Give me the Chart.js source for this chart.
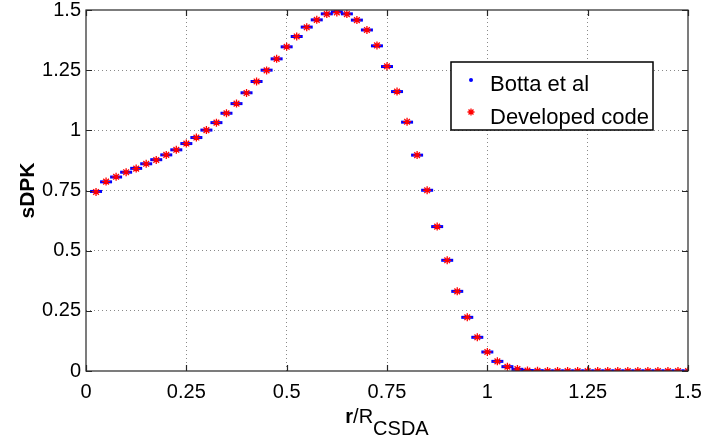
<!DOCTYPE html>
<html>
<head>
<meta charset="utf-8">
<script src="https://cdn.jsdelivr.net/npm/chart.js@4.4.1/dist/chart.umd.min.js"></script>
<style>
  html, body { margin: 0; padding: 0; background: #fff; }
</style>
</head>
<body>
<canvas id="graphique" width="705" height="436"></canvas>
<script>
"use strict";

// r / R_CSDA
const rayons = [0.025, 0.05, 0.075, 0.1, 0.125, 0.15, 0.175, 0.2, 0.225, 0.25,
  0.275, 0.3, 0.325, 0.35, 0.375, 0.4, 0.425, 0.45, 0.475, 0.5,
  0.525, 0.55, 0.575, 0.6, 0.625, 0.65, 0.675, 0.7, 0.725, 0.75,
  0.775, 0.8, 0.825, 0.85, 0.875, 0.9, 0.925, 0.95, 0.975, 1,
  1.025, 1.05, 1.075, 1.1, 1.125, 1.15, 1.175, 1.2, 1.225, 1.25,
  1.275, 1.3, 1.325, 1.35, 1.375, 1.4, 1.425, 1.45, 1.475, 1.5];

const valeursBotta = [0.746, 0.786, 0.806, 0.826, 0.842, 0.861, 0.878, 0.898, 0.919, 0.945,
  0.970, 1.001, 1.032, 1.071, 1.111, 1.156, 1.203, 1.250, 1.297, 1.347,
  1.390, 1.429, 1.459, 1.484, 1.492, 1.484, 1.458, 1.417, 1.351, 1.265,
  1.161, 1.034, 0.897, 0.751, 0.600, 0.460, 0.331, 0.223, 0.140, 0.079,
  0.040, 0.018, 0.007, 0.002, 0.001, 0, 0, 0, 0, 0,
  0, 0, 0, 0, 0, 0, 0, 0, 0, 0];

const valeursCode = [0.744, 0.787, 0.807, 0.826, 0.841, 0.861, 0.877, 0.898, 0.919, 0.945,
  0.970, 1.001, 1.032, 1.071, 1.111, 1.155, 1.203, 1.249, 1.297, 1.347,
  1.390, 1.428, 1.459, 1.483, 1.490, 1.483, 1.458, 1.417, 1.353, 1.266,
  1.161, 1.036, 0.897, 0.751, 0.600, 0.460, 0.331, 0.223, 0.140, 0.079,
  0.040, 0.018, 0.008, 0.002, 0.001, 0, 0, 0, 0, 0,
  0, 0, 0, 0, 0, 0, 0, 0, 0, 0];

const ticksX = [0, 0.25, 0.5, 0.75, 1, 1.25, 1.5];
const etiquettesX = ["0", "0.25", "0.5", "0.75", "1", "1.25", "1.5"];
const ticksY = [0, 0.25, 0.5, 0.75, 1, 1.25, 1.5];
const etiquettesY = ["0", "0.25", "0.5", "0.75", "1", "1.25", "1.5"];

const nomsSeries = ["Botta et al", "Developed code"];
const police = "'Liberation Sans', Arial, sans-serif";

function points(valeurs) {
  return rayons.map((r, i) => ({ x: r, y: valeurs[i] }));
}

// cadre, petites graduations vers l'interieur, legende et titres
const cadreMatlab = {
  id: 'cadreMatlab',
  afterDraw(chart) {
    const ctx = chart.ctx;
    const a = chart.chartArea;
    const sx = chart.scales.x;
    const sy = chart.scales.y;
    ctx.save();

    ctx.strokeStyle = '#262626';
    ctx.lineWidth = 1.2;
    ctx.strokeRect(a.left, a.top, a.right - a.left, a.bottom - a.top);
    ctx.beginPath();
    ticksX.forEach(v => {
      let x = Math.round(sx.getPixelForValue(v)) + 0.5;
      ctx.moveTo(x, a.bottom); ctx.lineTo(x, a.bottom - 6);
      ctx.moveTo(x, a.top); ctx.lineTo(x, a.top + 6);
    });
    ticksY.forEach(v => {
      let y = Math.round(sy.getPixelForValue(v)) + 0.5;
      ctx.moveTo(a.left, y); ctx.lineTo(a.left + 6, y);
      ctx.moveTo(a.right, y); ctx.lineTo(a.right - 6, y);
    });
    ctx.stroke();

    // legende
    ctx.fillStyle = '#fff';
    ctx.fillRect(451, 62, 202, 68);
    ctx.strokeStyle = '#000';
    ctx.lineWidth = 1.5;
    ctx.strokeRect(451, 62, 202, 68);

    const ds = chart.data.datasets;
    ctx.fillStyle = ds[0].borderColor;
    ctx.beginPath();
    ctx.arc(471, 80, 2, 0, Math.PI * 2);
    ctx.fill();
    ctx.strokeStyle = ds[1].borderColor;
    ctx.lineWidth = 1.3;
    Chart.helpers.drawPoint(ctx, { pointStyle: 'star', radius: 3.5, rotation: 0, borderWidth: 1.3 }, 471, 112);

    ctx.fillStyle = '#000';
    ctx.font = "22px " + police;
    ctx.textAlign = 'left';
    ctx.textBaseline = 'alphabetic';
    ctx.fillText(ds[0].label, 490, 91);
    ctx.fillText(ds[1].label, 490, 124);

    // titre axe y
    ctx.save();
    ctx.translate(28, (a.top + a.bottom) / 2);
    ctx.rotate(-Math.PI / 2);
    ctx.font = "bold 21px " + police;
    ctx.textAlign = 'center';
    ctx.textBaseline = 'middle';
    ctx.fillText("sDPK", 0, 0);
    ctx.restore();

    // titre axe x avec indice
    ctx.font = "bold 20px " + police;
    let wr = ctx.measureText("r").width;
    ctx.font = "20px " + police;
    let wR = ctx.measureText("/R").width;
    let wSub = ctx.measureText("CSDA").width;
    let debut = (a.left + a.right) / 2 - (wr + wR + wSub) / 2;
    ctx.font = "bold 20px " + police;
    ctx.fillText("r", debut, 423);
    ctx.font = "20px " + police;
    ctx.fillText("/R", debut + wr, 423);
    ctx.fillText("CSDA", debut + wr + wR, 435);

    ctx.restore();
  }
};

const ctx = document.getElementById('graphique').getContext('2d');
let myChart = new Chart(ctx, {
  type: 'scatter',
  data: {
    datasets: [{
      label: nomsSeries[0],
      data: points(valeursBotta),
      borderColor: '#0000ff',
      backgroundColor: '#0000ff',
      pointStyle: 'line',
      pointRadius: 6,
      pointBorderWidth: 3,
      order: 2
    }, {
      label: nomsSeries[1],
      data: points(valeursCode),
      borderColor: '#ff0000',
      backgroundColor: '#ff0000',
      pointStyle: 'star',
      pointRadius: 4,
      pointBorderWidth: 1.3,
      order: 1
    }]
  },
  options: {
    responsive: false,
    animation: false,
    events: [],
    layout: { padding: { top: 10, right: 17, left: 0, bottom: 0 } },
    plugins: {
      legend: { display: false },
      tooltip: { enabled: false }
    },
    scales: {
      x: {
        type: 'linear',
        min: 0,
        max: 1.5,
        afterBuildTicks: axis => { axis.ticks = ticksX.map(v => ({ value: v })); },
        afterFit: axis => { axis.height = 65; axis.paddingLeft = 0; axis.paddingRight = 0; },
        ticks: {
          callback: (v) => etiquettesX[ticksX.indexOf(v)],
          color: '#000',
          font: { family: police, size: 20 },
          padding: 9,
          maxRotation: 0
        },
        grid: {
          drawTicks: false,
          color: c => (c.tick && (c.tick.value === 0 || c.tick.value === 1.5)) ? 'rgba(0,0,0,0)' : '#8a8a8a',
          lineWidth: 1
        },
        border: { display: false, dash: [1, 3] }
      },
      y: {
        type: 'linear',
        min: 0,
        max: 1.5,
        afterBuildTicks: axis => { axis.ticks = ticksY.map(v => ({ value: v })); },
        afterFit: axis => { axis.width = 86; axis.paddingTop = 0; axis.paddingBottom = 0; },
        ticks: {
          callback: (v) => etiquettesY[ticksY.indexOf(v)],
          color: '#000',
          font: { family: police, size: 20 },
          padding: 5
        },
        grid: {
          drawTicks: false,
          color: c => (c.tick && (c.tick.value === 0 || c.tick.value === 1.5)) ? 'rgba(0,0,0,0)' : '#8a8a8a',
          lineWidth: 1
        },
        border: { display: false, dash: [1, 3] }
      }
    }
  },
  plugins: [cadreMatlab]
});
</script>
</body>
</html>
